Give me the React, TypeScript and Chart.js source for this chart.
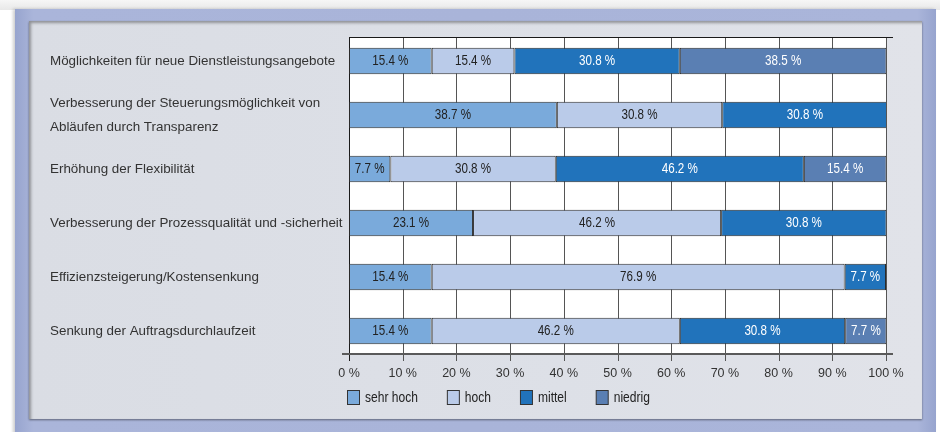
import React, { useEffect, useRef } from "react";
import { Chart, registerables } from "chart.js";

Chart.register(...registerables);

// ---------- data ----------
const categories: (string | string[])[] = [
  "Möglichkeiten für neue Dienstleistungsangebote",
  ["Verbesserung der Steuerungsmöglichkeit von", "Abläufen durch Transparenz"],
  "Erhöhung der Flexibilität",
  "Verbesserung der Prozessqualität und -sicherheit",
  "Effizienzsteigerung/Kostensenkung",
  "Senkung der Auftragsdurchlaufzeit",
];
const seriesNames = ["sehr hoch", "hoch", "mittel", "niedrig"];
const sehrHoch = [15.4, 38.7, 7.7, 23.1, 15.4, 15.4];
const hoch = [15.4, 30.8, 30.8, 46.2, 76.9, 46.2];
const mittel = [30.8, 30.8, 46.2, 30.8, 7.7, 30.8];
const niedrig = [38.5, 0, 15.4, 0, 0, 7.7];
const xTickValues = [0, 10, 20, 30, 40, 50, 60, 70, 80, 90, 100];

// ---------- styles ----------
const barColors = ["#7aaadb", "#bacbe9", "#2173bb", "#5a7fb3"];
const valueColors = ["#222222", "#222222", "#ffffff", "#ffffff"];
const SANS = "'Liberation Sans', Arial, Helvetica, sans-serif";
const NARROW_SCALE = 0.83;

function drawNarrowText(ctx: any, text: string, x: number, y: number, align: "left" | "center") {
  ctx.save();
  ctx.translate(x, y);
  ctx.scale(NARROW_SCALE, 1);
  ctx.textAlign = align;
  ctx.fillText(text, 0, 0);
  ctx.restore();
}

const framePlugin = {
  id: "frame",
  beforeDatasetsDraw(chart: any) {
    const { ctx, chartArea: a, scales } = chart;
    const xs = scales.x;
    const top = a.top + 3;
    const axisY = a.bottom - 4;
    ctx.save();
    ctx.fillStyle = "#ffffff";
    ctx.fillRect(a.left, top, a.right - a.left, axisY - top);
    xs.ticks.forEach((t: any) => {
      const px = Math.round(xs.getPixelForValue(t.value)) + 0.5;
      ctx.strokeStyle = t.value === 0 ? "#1a1a1a" : "#555555";
      ctx.lineWidth = 1;
      ctx.beginPath();
      ctx.moveTo(px, top);
      ctx.lineTo(px, a.bottom + 3);
      ctx.stroke();
    });
    ctx.strokeStyle = "#1a1a1a";
    ctx.lineWidth = 1;
    ctx.beginPath();
    ctx.moveTo(a.left, top + 0.5);
    ctx.lineTo(a.right + 7, top + 0.5);
    ctx.stroke();
    ctx.strokeStyle = "#5a5a5a";
    ctx.lineWidth = 2;
    ctx.beginPath();
    ctx.moveTo(a.left - 7, axisY);
    ctx.lineTo(a.right + 7, axisY);
    ctx.stroke();
    ctx.restore();
  },
};

const valueLabelPlugin = {
  id: "valueLabels",
  afterDatasetsDraw(chart: any) {
    const { ctx } = chart;
    ctx.save();
    ctx.font = `14px ${SANS}`;
    ctx.textBaseline = "middle";
    chart.data.datasets.forEach((ds: any, di: number) => {
      const meta = chart.getDatasetMeta(di);
      meta.data.forEach((el: any, i: number) => {
        const v = ds.data[i];
        if (!v) return;
        const p = el.getProps(["x", "y", "base"], true);
        ctx.fillStyle = valueColors[di];
        drawNarrowText(ctx, v.toFixed(1) + " %", (p.x + p.base) / 2, p.y + 0.5, "center");
      });
    });
    ctx.restore();
  },
};

const legendPlugin = {
  id: "customLegend",
  afterDraw(chart: any) {
    const { ctx, chartArea: a } = chart;
    ctx.save();
    ctx.font = `14.5px ${SANS}`;
    ctx.textBaseline = "middle";
    let x = Math.round(a.left) - 2;
    const y = Math.round(a.bottom) + 39;
    chart.data.datasets.forEach((ds: any) => {
      ctx.fillStyle = ds.backgroundColor;
      ctx.fillRect(x + 0.5, y - 7 + 0.5, 12, 14);
      ctx.strokeStyle = "#333333";
      ctx.lineWidth = 1;
      ctx.strokeRect(x + 0.5, y - 7 + 0.5, 12, 14);
      ctx.fillStyle = "#222222";
      drawNarrowText(ctx, ds.label, x + 18, y + 1, "left");
      x += 18 + ctx.measureText(ds.label).width * NARROW_SCALE + 29;
    });
    ctx.restore();
  },
};

export default function App() {
  const ref = useRef<HTMLCanvasElement>(null);

  useEffect(() => {
    if (!ref.current) return;
    const series = [sehrHoch, hoch, mittel, niedrig];
    const chart = new Chart(ref.current, {
      type: "bar",
      data: {
        labels: categories,
        datasets: series.map((d, i) => ({
          label: seriesNames[i],
          data: d,
          backgroundColor: barColors[i],
          borderColor: "#2a2a2a",
          borderWidth: 1,
          borderSkipped: false,
          barPercentage: 0.49,
          categoryPercentage: 1,
        })),
      },
      options: {
        responsive: false,
        animation: false,
        indexAxis: "y",
        layout: { padding: { top: 34, left: 50, right: 54, bottom: 0 } },
        plugins: { legend: { display: false }, tooltip: { enabled: false } },
        scales: {
          x: {
            type: "linear",
            stacked: true,
            min: 0,
            max: 100,
            grid: { display: false, drawTicks: false },
            border: { display: false },
            afterBuildTicks: (s: any) => {
              s.ticks = xTickValues.map((v) => ({ value: v }));
            },
            afterFit: (s: any) => {
              s.height = 74;
            },
            ticks: {
              padding: 8,
              color: "#333333",
              font: { family: SANS, size: 12.5 },
              callback: (v: any) => v + " %",
            },
          },
          y: {
            stacked: true,
            grid: { display: false },
            border: { display: false },
            afterFit: (s: any) => {
              s.width = 299;
            },
            ticks: {
              crossAlign: "far",
              color: "#333333",
              padding: 7,
              font: { family: SANS, size: 13.4, lineHeight: 1.8 },
            },
          },
        },
      } as any,
      plugins: [framePlugin, valueLabelPlugin, legendPlugin],
    });
    return () => chart.destroy();
  }, []);

  return (
    <div
      style={{
        position: "fixed",
        left: 0,
        top: 0,
        width: 940,
        height: 432,
        background: "#ffffff",
        overflow: "hidden",
      }}
    >
      <div
        style={{
          position: "absolute",
          left: 0,
          top: 0,
          width: 940,
          height: 10,
          background: "linear-gradient(#f6f6f6, #e8e8e8)",
        }}
      />
      <div
        style={{
          position: "absolute",
          left: 15,
          top: 9,
          width: 921,
          height: 430,
          background:
            "linear-gradient(90deg, #97a4ce, #aab5da 2%, #a9b4d9 50%, #aab5da 98%, #97a4ce)",
          boxShadow: "-2px 0 3px rgba(0,0,0,0.2)",
        }}
      />
      <div
        style={{
          position: "absolute",
          left: 29,
          top: 21,
          width: 893,
          height: 398,
          background: "linear-gradient(90deg, #dadde4, #dde0e7 60%, #e1e3e9)",
          boxShadow:
            "inset 2px 2px 3px rgba(0,0,0,0.35), 0 1px 2px rgba(0,0,0,0.45)",
        }}
      />
      <canvas
        ref={ref}
        width={940}
        height={432}
        style={{ position: "absolute", left: 0, top: 0, width: 940, height: 432 }}
      />
    </div>
  );
}
